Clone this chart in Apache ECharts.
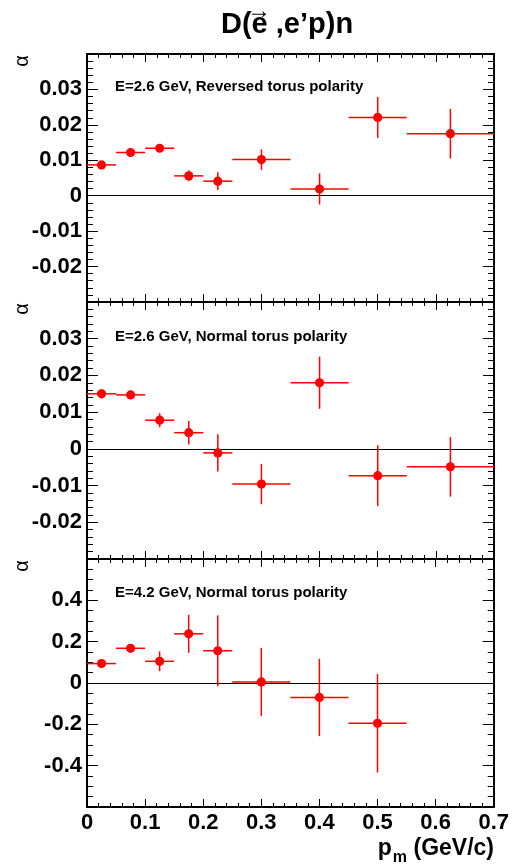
<!DOCTYPE html>
<html><head><meta charset="utf-8">
<script src="https://cdn.jsdelivr.net/npm/echarts@6/dist/echarts.min.js"></script>
<style>html,body{margin:0;padding:0;background:#fff}#c{width:512px;height:867px}</style>
</head><body><div id="c"></div>
<script>
// bin centres and edges of missing momentum p_m (GeV/c)
const xCenter = [0.025, 0.075, 0.125, 0.175, 0.225, 0.3, 0.4, 0.5, 0.625];
const xLow    = [0.0,   0.05,  0.1,   0.15,  0.2,   0.25, 0.35, 0.45, 0.55];
const xHigh   = [0.05,  0.1,   0.15,  0.2,   0.25,  0.35, 0.45, 0.55, 0.7];

// E=2.6 GeV, reversed torus polarity
const alphaRev26 = [0.0087, 0.0122, 0.0134, 0.0056, 0.0041, 0.0102, 0.0019, 0.0221, 0.0175];
const errRev26   = [0.0010, 0.0008, 0.0008, 0.0015, 0.0025, 0.0029, 0.0044, 0.0058, 0.0070];
// E=2.6 GeV, normal torus polarity
const alphaNorm26 = [0.0150, 0.0147, 0.0078, 0.0044, -0.0011, -0.0096, 0.0180, -0.0073, -0.0049];
const errNorm26   = [0.0012, 0.0008, 0.0019, 0.0032, 0.0051, 0.0055, 0.0071, 0.0083, 0.0081];
// E=4.2 GeV, normal torus polarity
const alphaNorm42 = [0.094, 0.168, 0.105, 0.238, 0.156, 0.005, -0.070, -0.195];
const errNorm42   = [0.015, 0.015, 0.048, 0.092, 0.171, 0.165, 0.187, 0.238];

const xTickLabels = ['0', '0.1', '0.2', '0.3', '0.4', '0.5', '0.6', '0.7'];
const panelLabels = ['E=2.6 GeV, Reversed torus polarity', 'E=2.6 GeV, Normal torus polarity', 'E=4.2 GeV, Normal torus polarity'];
const yMin = [-0.03, -0.03, -0.6];
const yMax = [0.04, 0.04, 0.6];
const yInterval = [0.01, 0.01, 0.2];
const yMinorSplit = [5, 5, 4];

const panels = [
  { a: alphaRev26, e: errRev26 },
  { a: alphaNorm26, e: errNorm26 },
  { a: alphaNorm42, e: errNorm42 }
];
const gridBoxes = [
  { top: 54, height: 248 },
  { top: 302, height: 257 },
  { top: 559, height: 248 }
];
const labelTopOffset = [25, 27, 26.5];
const LEFT = 87, RIGHT = 18;
const FONT = 'Liberation Sans, Arial, Helvetica, sans-serif';

const chart = echarts.init(document.getElementById('c'), null, { renderer: 'canvas' });

const grids = [], xAxes = [], yAxes = [], series = [], graphics = [];

function renderErr(params, api) {
  const xc = api.value(0), y = api.value(1), xl = api.value(2), xh = api.value(3), e = api.value(4);
  const pL = api.coord([xl, y]), pR = api.coord([xh, y]);
  const pT = api.coord([xc, y + e]), pB = api.coord([xc, y - e]);
  const c = api.coord([xc, y]);
  return {
    type: 'group',
    children: [
      { type: 'line', shape: { x1: pL[0], y1: pL[1], x2: pR[0], y2: pR[1] }, style: { stroke: '#ff0000', lineWidth: 1.5 } },
      { type: 'line', shape: { x1: pT[0], y1: pT[1], x2: pB[0], y2: pB[1] }, style: { stroke: '#ff0000', lineWidth: 1.5 } },
      { type: 'circle', shape: { cx: c[0], cy: c[1], r: 4.6 }, style: { fill: '#ff0000' } }
    ]
  };
}

panels.forEach((p, i) => {
  grids.push({ left: LEFT, right: RIGHT, top: gridBoxes[i].top, height: gridBoxes[i].height, containLabel: false });
  const xBase = {
    gridIndex: i, type: 'value', min: 0, max: 0.7, interval: 0.1,
    axisLine: { show: true, onZero: false, lineStyle: { color: '#000', width: 2 } },
    axisTick: { show: true, inside: true, length: 8, lineStyle: { color: '#000', width: 1 } },
    minorTick: { show: true, splitNumber: 5, length: 4, lineStyle: { color: '#000', width: 1 } },
    splitLine: { show: false }
  };
  xAxes.push(Object.assign({}, xBase, {
    position: 'bottom',
    axisLabel: {
      show: i === 2, color: '#000', fontFamily: FONT, fontWeight: 'bold', fontSize: 22, margin: 5,
      formatter: v => xTickLabels[Math.round(v * 10)]
    }
  }));
  xAxes.push(Object.assign({}, xBase, { position: 'top', axisLabel: { show: false } }));

  const yBase = {
    gridIndex: i, type: 'value', min: yMin[i], max: yMax[i], interval: yInterval[i],
    axisLine: { show: true, onZero: false, lineStyle: { color: '#000', width: 2 } },
    axisTick: { show: true, inside: true, length: 11, lineStyle: { color: '#000', width: 1 } },
    minorTick: { show: true, splitNumber: yMinorSplit[i], length: 6, lineStyle: { color: '#000', width: 1 } },
    splitLine: { show: false }
  };
  yAxes.push(Object.assign({}, yBase, {
    position: 'left',
    axisLabel: {
      show: true, color: '#000', fontFamily: FONT, fontWeight: 'bold', fontSize: 22, margin: 5,
      showMinLabel: false, showMaxLabel: false,
      formatter: v => {
        const r = Math.round(v * 1000) / 1000;
        return r === 0 ? '0' : String(r);
      }
    }
  }));
  yAxes.push(Object.assign({}, yBase, { position: 'right', axisLabel: { show: false } }));

  const data = p.a.map((v, k) => [xCenter[k], v, xLow[k], xHigh[k], p.e[k]]);
  series.push({
    type: 'custom', xAxisIndex: 2 * i, yAxisIndex: 2 * i,
    renderItem: renderErr, data: data, encode: { x: 0, y: 1 }, clip: true, z: 5,
    markLine: {
      silent: true, symbol: 'none', label: { show: false },
      lineStyle: { color: '#000', width: 1, type: 'solid' },
      data: [{ yAxis: 0 }], animation: false
    }
  });

  graphics.push({
    type: 'text', left: 115, top: gridBoxes[i].top + labelTopOffset[i],
    style: { text: panelLabels[i], fill: '#000', font: 'bold 15px ' + FONT }
  });
  graphics.push({
    type: 'text', x: 22, y: gridBoxes[i].top + 7, rotation: Math.PI / 2,
    style: { text: '\u03b1', fill: '#000', font: '20px ' + FONT, textAlign: 'center', textVerticalAlign: 'middle' }
  });
});

// title D(e-vector ,e'p)n
graphics.push({
  type: 'text', x: 221, y: 25,
  style: { text: 'D(e ,e\u2019p)n', fill: '#000', font: 'bold 29px ' + FONT, textAlign: 'left', textVerticalAlign: 'middle' }
});
graphics.push({
  type: 'text', x: 259, y: 11,
  style: { text: '\u2192', fill: '#000', font: 'bold 24px ' + FONT, textAlign: 'center', textVerticalAlign: 'middle' }
});
// x-axis title p_m (GeV/c)
graphics.push({
  type: 'text', x: 494, y: 837,
  style: {
    text: '{p|p}{m|m}{t| (GeV/c)}', align: 'right', verticalAlign: 'top',
    rich: {
      p: { font: 'bold 23px ' + FONT, fill: '#000', lineHeight: 25, verticalAlign: 'top' },
      m: { font: 'bold 16px ' + FONT, fill: '#000', lineHeight: 17, padding: [13, 0, 0, 1], verticalAlign: 'top' },
      t: { font: 'bold 23px ' + FONT, fill: '#000', lineHeight: 25, verticalAlign: 'top' }
    }
  }
});

chart.setOption({
  animation: false,
  backgroundColor: '#fff',
  grid: grids,
  xAxis: xAxes,
  yAxis: yAxes,
  series: series,
  graphic: graphics
});
</script>
</body></html>
